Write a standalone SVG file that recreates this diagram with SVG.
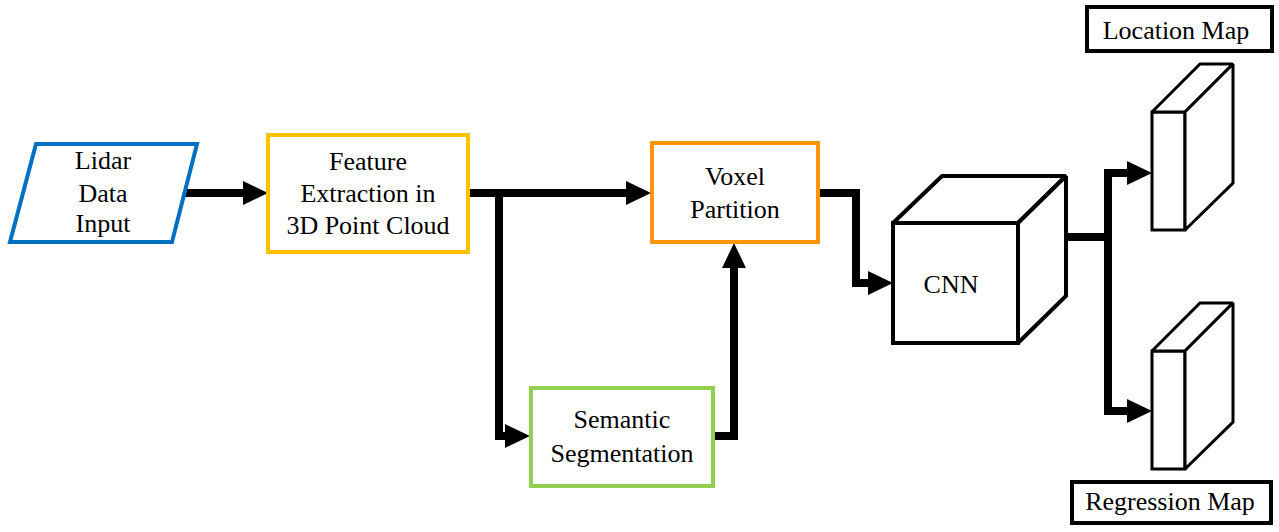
<svg xmlns="http://www.w3.org/2000/svg" width="1279" height="532" viewBox="0 0 1279 532">
<style>
.t{font-family:"Liberation Serif","Tinos","Times New Roman","Noto Serif","DejaVu Serif","FreeSerif",Times,serif;font-size:26px;fill:#000;text-anchor:middle}
.conn{fill:none;stroke:#000;stroke-width:8;stroke-linejoin:miter}
.box{fill:#fff;stroke-width:4}
.solid{fill:#fff;stroke:#000;stroke-width:4;stroke-linejoin:miter;stroke-miterlimit:2}
.thin{fill:#fff;stroke:#000;stroke-width:3;stroke-linejoin:miter;stroke-miterlimit:2}
</style>
<defs>
<marker id="ah" markerUnits="userSpaceOnUse" markerWidth="26" markerHeight="24" viewBox="-1 -12 26 24" refX="0" refY="0" orient="auto" overflow="visible">
<path d="M-1,-12 L24,0 L-1,12 z" fill="#000"/>
</marker>
</defs>
<rect width="1279" height="532" fill="#fff"/>
<g id="connectors">
<path class="conn" d="M184,193 H244" marker-end="url(#ah)"/>
<path class="conn" d="M468,193 H627" marker-end="url(#ah)"/>
<path class="conn" d="M499,193 V436 H506" marker-end="url(#ah)"/>
<path class="conn" d="M713,436 H734 V267" marker-end="url(#ah)"/>
<path class="conn" d="M819,193 H856 V283 H869" marker-end="url(#ah)"/>
<path class="conn" d="M1066,237 H1108 V173 H1128" marker-end="url(#ah)"/>
<path class="conn" d="M1108,237 V411 H1128" marker-end="url(#ah)"/>
</g>
<g id="lidar">
<polygon points="36,144 197,144 172,242 10,242" class="box" stroke="#0070C0"/>
<text class="t" x="103" y="169">Lidar</text>
<text class="t" x="103" y="202">Data</text>
<text class="t" x="103" y="232">Input</text>
</g>
<g id="feature">
<rect x="268" y="135" width="200" height="117" class="box" stroke="#FFC000"/>
<text class="t" x="368" y="170">Feature</text>
<text class="t" x="368" y="202">Extraction in</text>
<text class="t" x="368" y="234">3D Point Cloud</text>
</g>
<g id="voxel">
<rect x="652" y="143" width="166" height="99" class="box" stroke="#FF9408"/>
<text class="t" x="735" y="185">Voxel</text>
<text class="t" x="735" y="218">Partition</text>
</g>
<g id="semantic">
<rect x="531" y="388" width="182" height="98" class="box" stroke="#92D050"/>
<text class="t" x="622" y="428">Semantic</text>
<text class="t" x="622" y="462">Segmentation</text>
</g>
<g id="cnn">
<rect x="893" y="223" width="125" height="120" class="solid"/>
<polygon points="893,223 942,176 1066,176 1018,223" class="solid"/>
<polygon points="1018,223 1066,176 1066,296 1018,343" class="solid"/>
<text class="t" x="951" y="293">CNN</text>
</g>
<g id="location-map">
<rect x="1152" y="112" width="33" height="118" class="thin"/>
<polygon points="1152,112 1200,64 1233,64 1185,112" class="thin"/>
<polygon points="1185,112 1233,64 1233,183 1185,230" class="thin"/>
</g>
<g id="regression-map">
<rect x="1152" y="351" width="33" height="118" class="thin"/>
<polygon points="1152,351 1200,303 1233,303 1185,351" class="thin"/>
<polygon points="1185,351 1233,303 1233,422 1185,469" class="thin"/>
</g>
<g id="location-label">
<rect x="1087" y="7" width="185" height="44" class="solid"/>
<text class="t" x="1176" y="39">Location Map</text>
</g>
<g id="regression-label">
<rect x="1072" y="482" width="199" height="41" class="solid"/>
<text class="t" x="1170" y="510">Regression Map</text>
</g>
</svg>
